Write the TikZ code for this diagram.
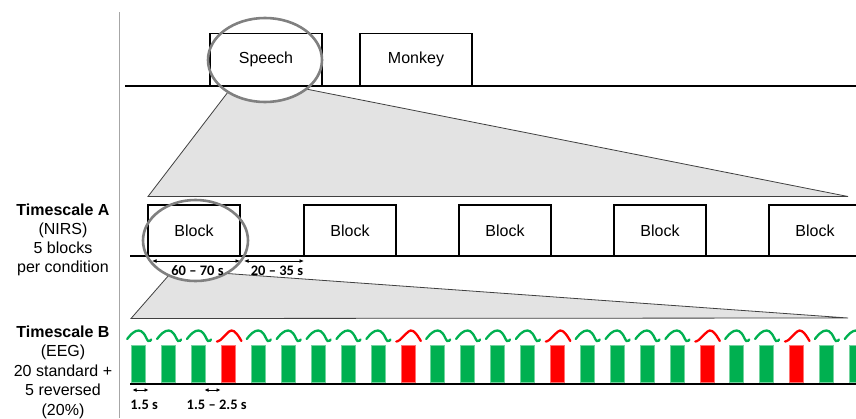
\documentclass[tikz,border=0pt]{standalone}
\usepackage{fontspec}
\setmainfont{Liberation Sans}
\newfontfamily\dimfont{Carlito Bold}
\usetikzlibrary{arrows.meta}
\definecolor{stdgreen}{RGB}{0,176,80}
\definecolor{revred}{RGB}{255,0,0}
\begin{document}
\begin{tikzpicture}[x=1pt,y=-1pt,
  box/.style={draw=black, line width=1.1pt, minimum width=112pt, minimum height=52.5pt,
    inner sep=0pt, font=\fontsize{16}{19}\selectfont},
  blockbox/.style={box, minimum width=92pt, minimum height=51pt},
  lens/.style={draw=black!50, line width=2.6pt},
  zoomfill/.style={fill=black!11},
  zoomedge/.style={draw=black!75, line width=0.8pt},
  axis/.style={draw=black, line width=2pt},
  span/.style={{Latex[length=4.5pt,width=3.8pt]}-{Latex[length=4.5pt,width=3.8pt]}, line width=0.9pt},
  tinyspan/.style={{Latex[length=4pt,width=3.8pt]}-{Latex[length=4pt,width=3.8pt]}, line width=0.9pt},
  dimlabel/.style={font=\dimfont\fontsize{14.5}{16}\selectfont, inner sep=0pt},
  side/.style={font=\fontsize{16}{19}\selectfont, anchor=base, inner sep=0pt},
  sidehead/.style={side, font=\bfseries\fontsize{16}{19}\selectfont},
  stdbar/.style={fill=stdgreen, draw=stdgreen!55!white, line width=0.6pt},
  revbar/.style={fill=revred, draw=revred!55!white, line width=0.6pt},
  stdwave/.style={draw=stdgreen, line width=2.3pt, line cap=round},
  revwave/.style={draw=revred, line width=2.3pt, line cap=round},
]
\useasboundingbox (0,0) rectangle (856,418);
\clip (0,0) rectangle (856,418);

% magnification wedges
\fill[zoomfill] (228,92) -- (306,89) -- (848,196.5) -- (148,196.5) -- cycle;
\fill[zoomfill] (169,275) -- (227,273.5) -- (848,318) -- (131,318.5) -- cycle;
\begin{scope}
  \clip (120,87) rectangle (400,120);
  \fill[white] (265,60) ellipse [x radius=57pt, y radius=42pt];
\end{scope}
\begin{scope}
  \clip (120,257.2) rectangle (300,300);
  \fill[white] (195.5,240.5) ellipse [x radius=52.5pt, y radius=40.5pt];
\end{scope}
\draw[zoomedge] (228,92) -- (148,196.5) -- (848,196.5) -- (306,89);
\draw[zoomedge] (169,275) -- (131,318.5) -- (848,318) -- (227,273.5);

% condition timeline
\coordinate (top0) at (125,86);
\coordinate (top1) at (856,86);
\draw[axis] (top0) -- (top1);
\node[box] (speech) at (266,59.75) {Speech};
\node[box] (monkey) at (416,59.75) {Monkey};

% timescale A: blocks
\coordinate (a0) at (130,256);
\coordinate (a1) at (856,256);
\draw[axis] (a0) -- (a1);
\foreach \i/\cx in {1/194,2/350,3/505,4/660,5/815}
  \node[blockbox] (blk\i) at (\cx,230.5) {Block};

% lenses
\draw[lens] (265,60) ellipse [x radius=57pt, y radius=42pt];
\draw[lens] (195.5,240.5) ellipse [x radius=52.5pt, y radius=40.5pt];

% durations of a block and of a pause
\coordinate (bs) at (152,261);
\coordinate (be) at (240,261);
\coordinate (ps) at (244,261);
\coordinate (pe) at (304,261);
\draw[span] (bs) -- (be);
\draw[span] (ps) -- (pe);
\node[dimlabel] (blkdur) at (197.5,271) {60 – 70 s};
\node[dimlabel] (pausedur) at (277,271) {20 – 35 s};

% timescale B: stimuli
\foreach \n in {0,1,2,4,5,6,7,8,10,11,12,13,15,16,17,18,20,21,23,24} {
  \begin{scope}[shift={({138.7+29.9*\n},0)}]
    \filldraw[stdbar] (-7,345) rectangle (7,382.6);
    \draw[stdwave] plot[smooth, tension=0.7] coordinates
      {(-11.5,339) (-6,333) (0,330.5) (5,333.5) (9.5,341) (12.5,339.5)};
  \end{scope}
}
\foreach \n in {3,9,14,19,22} {
  \begin{scope}[shift={({138.7+29.9*\n},0)}]
    \filldraw[revbar] (-7,345) rectangle (7,382.6);
    \draw[revwave] plot[smooth, tension=0.7] coordinates
      {(-11.5,341.5) (-8,340) (-2,334) (3,330.5) (8,333.5) (13,341)};
  \end{scope}
}
\coordinate (b0) at (130,383.8);
\coordinate (b1) at (856,383.8);
\draw[axis, line width=2.6pt] (b0) -- (b1);

% stimulus and interval durations
\coordinate (ss) at (132.5,390);
\coordinate (se) at (148.5,390);
\coordinate (is) at (204.5,390);
\coordinate (ie) at (220.5,390);
\draw[tinyspan] (ss) -- (se);
\draw[tinyspan] (is) -- (ie);
\node[dimlabel] (stimdur) at (144.2,404.5) {1.5 s};
\node[dimlabel] (isidur) at (216.7,404.5) {1.5 – 2.5 s};

% separator and row captions
\coordinate (sep0) at (119.5,12);
\coordinate (sep1) at (119.5,418);
\draw[black!35, line width=1.3pt] (sep0) -- (sep1);
\node[sidehead] (capA) at (63,215) {Timescale A};
\node[side] (capA1) at (63,234.3) {(NIRS)};
\node[side] (capA2) at (63,253.5) {5 blocks};
\node[side] (capA3) at (63,272.7) {per condition};
\node[sidehead] (capB) at (63,337) {Timescale B};
\node[side] (capB1) at (63,356.5) {(EEG)};
\node[side] (capB2) at (63,376) {20 standard +};
\node[side] (capB3) at (63,395.5) {5 reversed};
\node[side] (capB4) at (63,415) {(20\%)};
\end{tikzpicture}
\end{document}
